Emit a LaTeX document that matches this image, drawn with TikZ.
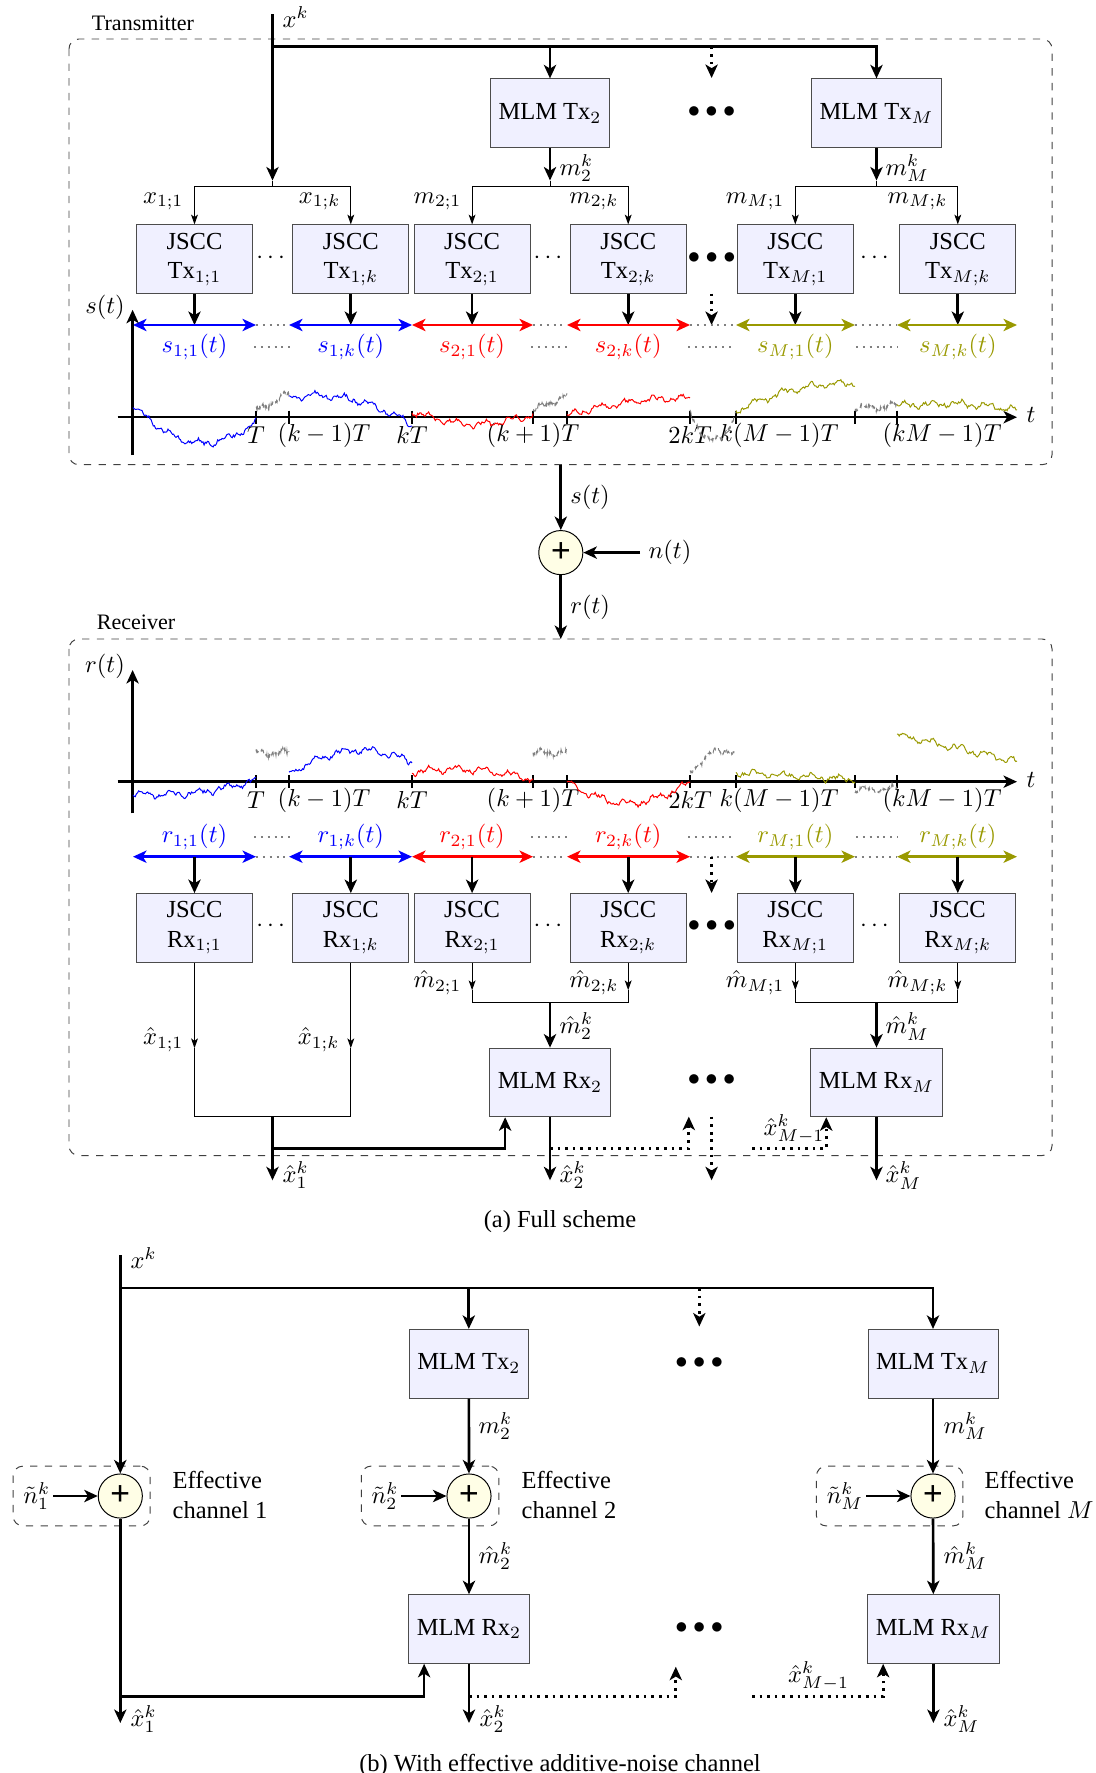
\documentclass[tikz,border=0pt]{standalone}
\usepackage{amsmath,amssymb}
\usepackage{fontspec}
\setmainfont{Liberation Serif}
\usepackage{tikz}
\usetikzlibrary{fit,arrows.meta}
\definecolor{olv}{RGB}{153,153,0}

\tikzset{
  blk/.style={draw=black!70,fill=blue!6,minimum width=47.3pt,minimum height=28pt,align=center,inner sep=2pt},
  mlm/.style={draw=black!70,fill=blue!6,minimum height=28pt},
  adder/.style={circle,draw,fill=yellow!10,minimum size=18pt,inner sep=0pt,font=\Large\bfseries},
  sig/.style={->,line width=1.1pt},
  tap/.style={-{Stealth[length=4pt,width=2.8pt,inset=1pt]},thin},
  seg/.style={<->,line width=1pt},
  gapline/.style={gray,dotted,thick},
  frame/.style={draw=black!75,dashed,rounded corners=4pt},
}

% noisy trace: style, x1, x2, y1, y2, bulge
\newcommand{\wave}[6]{%
  \draw[#1] plot[domain=#2:#3,samples=110]
    (\x,{#4+(#5-#4)*((\x-#2)/(#3-#2))+(#6)*sin(((\x-#2)/(#3-#2))*180)+2.5*sin(13*(\x-#2)+#2)+1.5*sin(37*(\x-#2))+1.5*rand});
}

\begin{document}
\begin{tikzpicture}[x=0.408pt,y=-0.408pt,>={Stealth[length=5.5pt,width=5pt,inset=1.5pt]}]
\useasboundingbox (0,0) rectangle (1095,1773);
\pgfmathsetseed{11}

% transmitter
\node[font=\small] (txlbl) at (143,23) {Transmitter};
\draw[frame] (69,39) rectangle (1052,464.7);
\coordinate (xin) at (272.5,14);
\coordinate (bus) at (272.5,46.6);
\coordinate (xsplit) at (272.5,180.5);
\node[anchor=west] (xinlbl) at (274,17) {$x^k$};
\node[mlm] (mtx2) at (550,113.2) {MLM Tx$_2$};
\node[mlm] (mtxM) at (876.5,113.2) {MLM Tx$_M$};
\node (tdots) at (711.6,111.7) {$\bullet\bullet\bullet$};
\draw[sig] (xin) -- (xsplit);
\draw[sig] (bus) -| (mtx2);
\draw[sig] (bus) -| (mtxM);
\coordinate (busdot) at (711.6,46.6);
\coordinate (busdotend) at (711.6,78);
\draw[sig,dotted] (busdot) -- (busdotend);
\coordinate (m2split) at (550,180.5);
\coordinate (mMsplit) at (876.5,180.5);
\draw[sig] (mtx2) -- (m2split);
\draw[sig] (mtxM) -- (mMsplit);
\node[anchor=west] (m2lbl) at (551,168) {$m_2^k$};
\node[anchor=west] (mMlbl) at (877,168) {$m_M^k$};

\node[blk] (tx11) at (194.5,259.2) {JSCC\\Tx$_{1;1}$};
\node[blk] (tx1k) at (350.8,259.2) {JSCC\\Tx$_{1;k}$};
\node[blk] (tx21) at (472.1,259.2) {JSCC\\Tx$_{2;1}$};
\node[blk] (tx2k) at (628.2,259.2) {JSCC\\Tx$_{2;k}$};
\node[blk] (txM1) at (795.3,259.2) {JSCC\\Tx$_{M;1}$};
\node[blk] (txMk) at (957.8,259.2) {JSCC\\Tx$_{M;k}$};
\node (tcd1) at (272.7,258) {$\cdots$};
\node (tcd2) at (550,258) {$\cdots$};
\node (tcd3) at (876.5,258) {$\cdots$};
\node (tdots2) at (711.8,258) {$\bullet\bullet\bullet$};

\draw[tap] (xsplit) -- ++(0,5.5) -| (tx11);
\draw[tap] (xsplit) -- ++(0,5.5) -| (tx1k);
\draw[tap] (m2split) -- ++(0,5.5) -| (tx21);
\draw[tap] (m2split) -- ++(0,5.5) -| (tx2k);
\draw[tap] (mMsplit) -- ++(0,5.5) -| (txM1);
\draw[tap] (mMsplit) -- ++(0,5.5) -| (txMk);
\node[anchor=east] (lx11) at (192,201.5) {$x_{1;1}$};
\node[anchor=east] (lx1k) at (349,201.5) {$x_{1;k}$};
\node[anchor=east] (lm21) at (470,201.5) {$m_{2;1}$};
\node[anchor=east] (lm2k) at (627,201.5) {$m_{2;k}$};
\node[anchor=east] (lmM1) at (793,201.5) {$m_{M;1}$};
\node[anchor=east] (lmMk) at (956,201.5) {$m_{M;k}$};

\coordinate (sc1) at (194.5,325);
\coordinate (sc2) at (350.8,325);
\coordinate (sc3) at (472.1,325);
\coordinate (sc4) at (628.2,325);
\coordinate (sc5) at (795.3,325);
\coordinate (sc6) at (957.8,325);
\draw[sig] (tx11) -- (sc1);
\draw[sig] (tx1k) -- (sc2);
\draw[sig] (tx21) -- (sc3);
\draw[sig] (tx2k) -- (sc4);
\draw[sig] (txM1) -- (sc5);
\draw[sig] (txMk) -- (sc6);
\coordinate (jdot) at (711.6,293.6);
\coordinate (jdotend) at (711.6,325);
\draw[sig,dotted] (jdot) -- (jdotend);

\draw[seg,blue] (133,325) -- (256,325);
\draw[seg,blue] (289,325) -- (412,325);
\draw[seg,red] (412,325) -- (533,325);
\draw[seg,red] (567,325) -- (690,325);
\draw[seg,olv] (736,325) -- (855,325);
\draw[seg,olv] (897,325) -- (1017,325);
\draw[gapline] (256,325) -- (289,325) (533,325) -- (567,325) (690,325) -- (736,325) (855,325) -- (897,325);
\node[blue] (s11) at (194.5,347) {$s_{1;1}(t)$};
\node[blue] (s1k) at (350.8,347) {$s_{1;k}(t)$};
\node[red] (s21) at (472.1,347) {$s_{2;1}(t)$};
\node[red] (s2k) at (628.2,347) {$s_{2;k}(t)$};
\node[olv] (sM1) at (795.3,347) {$s_{M;1}(t)$};
\node[olv] (sMk) at (957.8,347) {$s_{M;k}(t)$};
\draw[gapline] (254,347) -- (291,347) (531,347) -- (569,347) (688,347) -- (734,347) (856,347) -- (898,347);

\draw[->,line width=1pt] (132.6,455.2) -- (132.6,309.8);
\node (slbl) at (105,307) {$s(t)$};
\draw[->,line width=1pt] (117.5,417.2) -- (1017,417.2);
\node (tlbl) at (1031,415) {$t$};
\draw[line width=1pt] (256,410.5) -- ++(0,13.3) (289,410.5) -- ++(0,13.3) (412,410.5) -- ++(0,13.3)
  (533,410.5) -- ++(0,13.3) (567,410.5) -- ++(0,13.3) (690,410.5) -- ++(0,13.3)
  (736,410.5) -- ++(0,13.3) (855,410.5) -- ++(0,13.3) (897,410.5) -- ++(0,13.3);
\node (tT) at (256,435.2) {$T$};
\node (tk1) at (324,435.2) {$(k-1)T$};
\node (tkT) at (412,435.2) {$kT$};
\node (tkp) at (533,435.2) {$(k+1)T$};
\node (t2k) at (690,435.2) {$2kT$};
\node (tkM1) at (779,435.2) {$k(M-1)T$};
\node (tkMm) at (942,435.2) {$(kM-1)T$};

\wave{blue,thin}{133}{256}{405.8}{422.9}{28.5}
\wave{gray,densely dashed,thin}{256}{289}{410.5}{393.4}{0}
\wave{blue,thin}{289}{412}{397.2}{423.9}{-11.4}
\wave{red,thin}{412}{533}{411.5}{414.4}{11.4}
\wave{gray,densely dashed,thin}{533}{567}{410.5}{395.3}{0}
\wave{red,thin}{567}{690}{415.3}{398.2}{-4.75}
\wave{gray,densely dashed,thin}{690}{736}{411.5}{413.4}{28.5}
\wave{olv,thin}{736}{855}{410.5}{383}{-7.6}
\wave{gray,densely dashed,thin}{855}{897}{408.7}{405.8}{0}
\wave{olv,thin}{897}{1017}{405.8}{409.6}{-3.8}

% channel
\node[adder] (add) at (560.8,552.6) {+};
\coordinate (txout) at (560.8,464.7);
\coordinate (rxin) at (560.8,639);
\node (nt) at (670,552.6) {$n(t)$};
\draw[sig] (txout) -- (add) node[midway,right] (schan) {$s(t)$};
\draw[sig] (nt) -- (add);
\draw[sig] (add) -- (rxin) node[midway,right] (rchan) {$r(t)$};

% receiver
\node[font=\small] (rxlbl) at (136,622.5) {Receiver};
\draw[frame] (69,639) rectangle (1052,1155.5);
\draw[->,line width=1pt] (132.6,813.3) -- (132.6,670);
\node (rlbl) at (105,666.6) {$r(t)$};
\draw[->,line width=1pt] (117.5,781.7) -- (1017,781.7);
\node (tlbl2) at (1031,779.5) {$t$};
\draw[line width=1pt] (256,775) -- ++(0,13.3) (289,775) -- ++(0,13.3) (412,775) -- ++(0,13.3)
  (533,775) -- ++(0,13.3) (567,775) -- ++(0,13.3) (690,775) -- ++(0,13.3)
  (736,775) -- ++(0,13.3) (855,775) -- ++(0,13.3) (897,775) -- ++(0,13.3);
\node (rT) at (256,800) {$T$};
\node (rk1) at (324,800) {$(k-1)T$};
\node (rkT) at (412,800) {$kT$};
\node (rkp) at (533,800) {$(k+1)T$};
\node (r2k) at (690,800) {$2kT$};
\node (rkM1) at (779,800) {$k(M-1)T$};
\node (rkMm) at (942,800) {$(kM-1)T$};

\wave{blue,thin}{133}{256}{793.6}{780.3}{5.7}
\wave{gray,densely dashed,thin}{256}{289}{752.7}{752.7}{0}
\wave{blue,thin}{289}{412}{773.6}{761.3}{-17}
\wave{red,thin}{412}{533}{771.7}{779.3}{-5.7}
\wave{gray,densely dashed,thin}{533}{567}{753.7}{751.8}{0}
\wave{red,thin}{567}{690}{782.2}{782.2}{20.9}
\wave{gray,densely dashed,thin}{690}{736}{772.7}{751.8}{-9.5}
\wave{olv,thin}{736}{855}{772.7}{779.3}{0}
\wave{gray,densely dashed,thin}{855}{897}{789.8}{788.8}{0}
\wave{olv,thin}{897}{1017}{734.7}{761.3}{0}

\node[blue] (r11) at (194.5,836.7) {$r_{1;1}(t)$};
\node[blue] (r1k) at (350.8,836.7) {$r_{1;k}(t)$};
\node[red] (r21) at (472.1,836.7) {$r_{2;1}(t)$};
\node[red] (r2k) at (628.2,836.7) {$r_{2;k}(t)$};
\node[olv] (rM1) at (795.3,836.7) {$r_{M;1}(t)$};
\node[olv] (rMk) at (957.8,836.7) {$r_{M;k}(t)$};
\draw[gapline] (254,836.7) -- (291,836.7) (531,836.7) -- (569,836.7) (688,836.7) -- (734,836.7) (856,836.7) -- (898,836.7);
\draw[seg,blue] (133,856.7) -- (256,856.7);
\draw[seg,blue] (289,856.7) -- (412,856.7);
\draw[seg,red] (412,856.7) -- (533,856.7);
\draw[seg,red] (567,856.7) -- (690,856.7);
\draw[seg,olv] (736,856.7) -- (855,856.7);
\draw[seg,olv] (897,856.7) -- (1017,856.7);
\draw[gapline] (256,856.7) -- (289,856.7) (533,856.7) -- (567,856.7) (690,856.7) -- (736,856.7) (855,856.7) -- (897,856.7);

\node[blk] (rx11) at (194.5,927.9) {JSCC\\Rx$_{1;1}$};
\node[blk] (rx1k) at (350.8,927.9) {JSCC\\Rx$_{1;k}$};
\node[blk] (rx21) at (472.1,927.9) {JSCC\\Rx$_{2;1}$};
\node[blk] (rx2k) at (628.2,927.9) {JSCC\\Rx$_{2;k}$};
\node[blk] (rxM1) at (795.3,927.9) {JSCC\\Rx$_{M;1}$};
\node[blk] (rxMk) at (957.8,927.9) {JSCC\\Rx$_{M;k}$};
\node (rcd1) at (272.7,926.5) {$\cdots$};
\node (rcd2) at (550,926.5) {$\cdots$};
\node (rcd3) at (876.5,926.5) {$\cdots$};
\node (rdots1) at (711.8,926.5) {$\bullet\bullet\bullet$};
\coordinate (rc1) at (194.5,856.7);
\coordinate (rc2) at (350.8,856.7);
\coordinate (rc3) at (472.1,856.7);
\coordinate (rc4) at (628.2,856.7);
\coordinate (rc5) at (795.3,856.7);
\coordinate (rc6) at (957.8,856.7);
\draw[sig] (rc1) -- (rx11);
\draw[sig] (rc2) -- (rx1k);
\draw[sig] (rc3) -- (rx21);
\draw[sig] (rc4) -- (rx2k);
\draw[sig] (rc5) -- (rxM1);
\draw[sig] (rc6) -- (rxMk);
\coordinate (rdot) at (711.6,856.7);
\coordinate (rdotend) at (711.6,893);
\draw[sig,dotted] (rdot) -- (rdotend);

\node[mlm] (mrx2) at (550,1082.4) {MLM Rx$_2$};
\node[mlm] (mrxM) at (876.5,1082.4) {MLM Rx$_M$};
\node (rdots2) at (711.6,1080.5) {$\bullet\bullet\bullet$};

\coordinate (x11e) at (194.5,1048.2);
\coordinate (x1ke) at (350.8,1048.2);
\coordinate (x1mid) at (272.5,1116.6);
\coordinate (x1fb) at (272.5,1148.3);
\coordinate (x1out) at (272.5,1180.3);
\draw[tap] (rx11) -- (x11e);
\draw[tap] (rx1k) -- (x1ke);
\draw[thin] (x11e) |- (x1mid) -| (x1ke);
\draw[sig] (x1mid) -- (x1out);
\draw[sig] (x1fb) -| ([xshift=6.5pt]mrx2.south west);
\node[anchor=east] (lxh11) at (192,1039.6) {$\hat{x}_{1;1}$};
\node[anchor=east] (lxh1k) at (348,1039.6) {$\hat{x}_{1;k}$};
\node[anchor=west] (lxh1) at (274,1175.5) {$\hat{x}_1^k$};

\coordinate (m21e) at (472.1,990.2);
\coordinate (m2ke) at (628.2,990.2);
\coordinate (m2mid) at (550,1002.5);
\draw[tap] (rx21) -- (m21e);
\draw[tap] (rx2k) -- (m2ke);
\draw[thin] (m21e) |- (m2mid) -| (m2ke);
\draw[sig] (m2mid) -- (mrx2);
\coordinate (mM1e) at (795.3,990.2);
\coordinate (mMke) at (957.8,990.2);
\coordinate (mMmid) at (876.5,1002.5);
\draw[tap] (rxM1) -- (mM1e);
\draw[tap] (rxMk) -- (mMke);
\draw[thin] (mM1e) |- (mMmid) -| (mMke);
\draw[sig] (mMmid) -- (mrxM);
\node[anchor=east] (lmh21) at (470,982.6) {$\hat{m}_{2;1}$};
\node[anchor=east] (lmh2k) at (627,982.6) {$\hat{m}_{2;k}$};
\node[anchor=east] (lmhM1) at (793,982.6) {$\hat{m}_{M;1}$};
\node[anchor=east] (lmhMk) at (956,982.6) {$\hat{m}_{M;k}$};
\node[anchor=west] (lmh2) at (551,1026.3) {$\hat{m}_2^k$};
\node[anchor=west] (lmhM) at (877,1026.3) {$\hat{m}_M^k$};

\coordinate (x2out) at (550,1180.3);
\coordinate (xMout) at (876.5,1180.3);
\draw[sig] (mrx2) -- (x2out);
\draw[sig] (mrxM) -- (xMout);
\coordinate (x2fb) at (550,1148.3);
\coordinate (x2fbend) at (688.8,1116.6);
\draw[sig,dotted] (x2fb) -| (x2fbend);
\coordinate (rdotin) at (711.6,1116.6);
\coordinate (rdotout) at (711.6,1180.3);
\draw[sig,dotted] (rdotin) -- (rdotout);
\coordinate (xMm1) at (752,1148.3);
\draw[sig,dotted] (xMm1) -| ([xshift=6.5pt]mrxM.south west);
\node[anchor=west] (lxh2) at (551,1175.5) {$\hat{x}_2^k$};
\node[anchor=west] (lxhM) at (877,1175.5) {$\hat{x}_M^k$};
\node (lxhMm1) at (794,1129) {$\hat{x}_{M-1}^k$};

\node (capa) at (560,1222) {(a) Full scheme};

% effective channel
\coordinate (bxin) at (120.3,1255);
\coordinate (bbus) at (120.3,1288);
\node[anchor=west] (bxinlbl) at (122,1258) {$x^k$};
\node[mlm] (bmtx2) at (468.8,1363.7) {MLM Tx$_2$};
\node[mlm] (bmtxM) at (933,1363.7) {MLM Tx$_M$};
\node (bdots1) at (699.3,1362.6) {$\bullet\bullet\bullet$};
\draw[sig] (bbus) -| (bmtx2);
\draw[sig] (bbus) -| (bmtxM);
\coordinate (bbusdot) at (699.3,1288);
\coordinate (bbusdotend) at (699.3,1326.5);
\draw[sig,dotted] (bbusdot) -- (bbusdotend);

\node[adder] (add1) at (120.3,1496) {+};
\node[adder] (add2) at (469,1496) {+};
\node[adder] (addM) at (933,1496) {+};
\node[inner sep=1pt] (nt1) at (36.8,1496) {$\tilde{n}_1^k$};
\node[inner sep=1pt] (nt2) at (385,1496) {$\tilde{n}_2^k$};
\node[inner sep=1pt] (ntM) at (845,1496) {$\tilde{n}_M^k$};
\draw[sig] (nt1) -- (add1);
\draw[sig] (nt2) -- (add2);
\draw[sig] (ntM) -- (addM);
\node[frame,fit=(nt1)(add1),inner sep=3pt] (ch1) {};
\node[frame,fit=(nt2)(add2),inner sep=3pt] (ch2) {};
\node[frame,fit=(ntM)(addM),inner sep=3pt] (chM) {};
\node[anchor=west,align=left] (eff1) at (164,1495) {Effective\\channel 1};
\node[anchor=west,align=left] (eff2) at (513,1495) {Effective\\channel 2};
\node[anchor=west,align=left] (effM) at (976,1495) {Effective\\channel $M$};

\node[mlm] (bmrx2) at (469,1629) {MLM Rx$_2$};
\node[mlm] (bmrxM) at (933.4,1629) {MLM Rx$_M$};
\node (bdots2) at (699.3,1628) {$\bullet\bullet\bullet$};
\draw[sig] (bxin) -- (add1);
\draw[sig] (bmtx2) -- (add2);
\draw[sig] (bmtxM) -- (addM);
\draw[sig] (add2) -- (bmrx2);
\draw[sig] (addM) -- (bmrxM);
\node[anchor=west] (bm2) at (470,1426) {$m_2^k$};
\node[anchor=west] (bmM) at (935,1426) {$m_M^k$};
\node[anchor=west] (bmh2) at (470,1556) {$\hat{m}_2^k$};
\node[anchor=west] (bmhM) at (935,1556) {$\hat{m}_M^k$};

\coordinate (bx1out) at (120.3,1723);
\coordinate (bx1fb) at (120.3,1696.5);
\coordinate (bx2out) at (469,1723);
\coordinate (bxMout) at (933.4,1723);
\draw[sig] (add1) -- (bx1out);
\draw[sig] (bx1fb) -| ([xshift=6.5pt]bmrx2.south west);
\draw[sig] (bmrx2) -- (bx2out);
\draw[sig] (bmrxM) -- (bxMout);
\coordinate (bx2fb) at (469,1696.5);
\coordinate (bx2fbend) at (675.8,1666.7);
\draw[sig,dotted] (bx2fb) -| (bx2fbend);
\coordinate (bxMm1) at (752,1696.5);
\draw[sig,dotted] (bxMm1) -| ([xshift=6.5pt]bmrxM.south west);
\node[anchor=west] (blxh1) at (122,1719) {$\hat{x}_1^k$};
\node[anchor=west] (blxh2) at (471,1719) {$\hat{x}_2^k$};
\node[anchor=west] (blxhM) at (935,1719) {$\hat{x}_M^k$};
\node (blxhMm1) at (818.6,1676) {$\hat{x}_{M-1}^k$};

\node (capb) at (560,1765) {(b) With effective additive-noise channel};
\end{tikzpicture}
\end{document}
